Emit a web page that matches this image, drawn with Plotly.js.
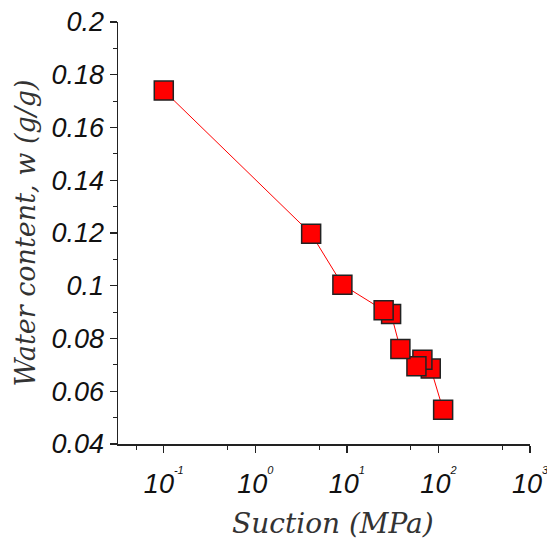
<!DOCTYPE html>
<html>
<head>
<meta charset="utf-8">
<script src="https://cdn.plot.ly/plotly-3.0.1.min.js"></script>
<style>html,body{margin:0;padding:0;background:#fff;}#chart{width:547px;height:540px;}</style>
</head>
<body>
<div id="chart"></div>
<script>
// Data (ordered as drawn: descending suction)
const suction = [112.5, 82.4, 66.8, 57.5, 38.4, 30.4, 25.2, 8.93, 4.07, 0.1];
const waterContent = [0.053, 0.0686, 0.0719, 0.0695, 0.076, 0.0893, 0.0907, 0.1004, 0.1197, 0.174];
const xTickVals = [0.1, 1, 10, 100, 1000];
const xTickExp = ['-1', '0', '1', '2', '3'];
const xMinorVals = [0.05, 0.5, 5, 50, 500];
const yTickVals = [0.04, 0.06, 0.08, 0.1, 0.12, 0.14, 0.16, 0.18, 0.2];
const yTickText = ['0.04', '0.06', '0.08', '0.1', '0.12', '0.14', '0.16', '0.18', '0.2'];

const xTickText = xTickExp.map(e => '10<sup><span style="font-size:11px;baseline-shift:8px">' + e + '</span></sup>');

const trace = {
  x: suction, y: waterContent, type: 'scatter', mode: 'lines+markers',
  line: {color: '#ff0000', width: 1},
  marker: {symbol: 'square', size: 19, color: '#ff0000', line: {color: '#222222', width: 1.5}},
  showlegend: false, hoverinfo: 'none'
};

const tickFont = {family: 'Liberation Sans, Arial, sans-serif', size: 27, color: '#111', style: 'italic'};

const layout = {
  width: 547, height: 540,
  margin: {l: 118, r: 17, t: 22, b: 96},
  paper_bgcolor: '#fff', plot_bgcolor: '#fff',
  xaxis: {
    type: 'log', range: [-1.5, 3],
    tickmode: 'array', tickvals: xTickVals, ticktext: xTickText,
    ticks: 'outside', ticklen: 7, tickwidth: 1.3, tickcolor: '#222',
    ticklabelstandoff: 8, ticklabeloverflow: 'allow',
    minor: {tickmode: 'array', tickvals: xMinorVals, ticks: 'outside', ticklen: 4, tickwidth: 1.2, tickcolor: '#222', showgrid: false},
    showline: true, linecolor: '#222', linewidth: 1.5, mirror: false,
    showgrid: false, zeroline: false,
    tickfont: tickFont,
    title: {text: '&nbsp;&nbsp;Suction (MPa)', font: {family: 'DejaVu Serif, serif', size: 28, color: '#333', style: 'italic'}, standoff: 16}
  },
  yaxis: {
    range: [0.04, 0.2],
    tickmode: 'array', tickvals: yTickVals, ticktext: yTickText,
    ticks: 'outside', ticklen: 7, tickwidth: 1.3, tickcolor: '#222',
    minor: {dtick: 0.01, ticks: 'outside', ticklen: 4, tickwidth: 1.2, tickcolor: '#222', showgrid: false},
    showline: true, linecolor: '#222', linewidth: 1.5, mirror: false,
    showgrid: false, zeroline: false,
    tickfont: tickFont,
    title: {text: 'Water content, w (g/g)', font: {family: 'DejaVu Serif, serif', size: 27, color: '#333', style: 'italic'}, standoff: 8}
  }
};

Plotly.newPlot('chart', [trace], layout, {displayModeBar: false, staticPlot: true});
</script>
</body>
</html>
